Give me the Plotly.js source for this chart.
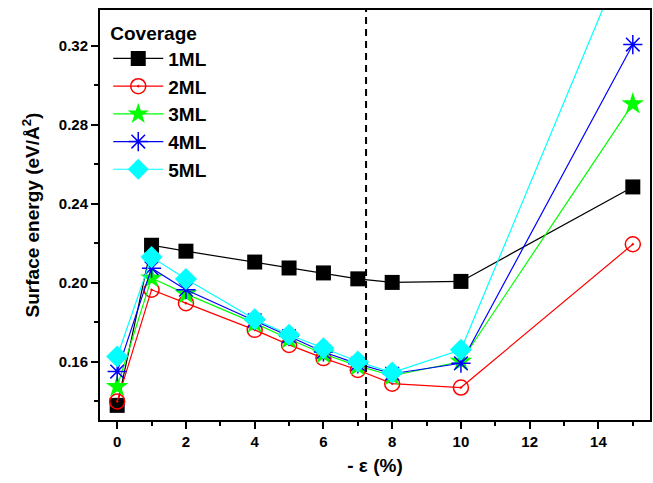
<!DOCTYPE html>
<html>
<head>
<meta charset="utf-8">
<script src="https://cdn.plot.ly/plotly-3.0.1.min.js"></script>
<style>html,body{margin:0;padding:0;background:#fff;}#chart{width:653px;height:483px;}</style>
</head>
<body>
<div id="chart"></div>
<script>
const strain = [0, 1, 2, 4, 5, 6, 7, 8, 10, 15];
const ml1 = [0.138, 0.219, 0.216, 0.2105, 0.2075, 0.205, 0.202, 0.2002, 0.2007, 0.2485];
const ml2 = [0.140, 0.1965, 0.1897, 0.1762, 0.1686, 0.1619, 0.1559, 0.1490, 0.1470, 0.2195];
const ml3 = [0.1475, 0.2024, 0.1944, 0.1796, 0.1716, 0.1640, 0.1580, 0.1530, 0.1602, 0.2905];
const ml4 = [0.1551, 0.2074, 0.1965, 0.1810, 0.1730, 0.1650, 0.1590, 0.1540, 0.1593, 0.3205];
const ml5 = [0.1627, 0.2130, 0.2019, 0.1816, 0.1737, 0.1669, 0.1602, 0.1546, 0.1661, 0.375];
const seriesNames = ['1ML', '2ML', '3ML', '4ML', '5ML'];
const dashedX = 7.24;

const styles = [
  {color: '#000000', symbol: 'square', size: 15, lw: 0},
  {color: '#ff0000', symbol: 'circle-open-dot', size: 15, lw: 1.5},
  {color: '#00ff00', symbol: 'star', size: 17, lw: 0},
  {color: '#0000ff', symbol: 'asterisk-open', size: 16, lw: 1.5},
  {color: '#00ffff', symbol: 'diamond', size: 17, lw: 0}
];
const allY = [ml1, ml2, ml3, ml4, ml5];

const traces = allY.map((ys, i) => ({
  x: strain, y: ys, name: seriesNames[i], type: 'scatter', mode: 'lines+markers',
  line: {color: styles[i].color, width: 1.2},
  marker: {symbol: styles[i].symbol, size: styles[i].size, color: styles[i].color,
           line: {color: styles[i].color, width: styles[i].lw}},
  cliponaxis: true
}));

const layout = {
  width: 653, height: 483,
  margin: {l: 100, r: 3, t: 10, b: 63},
  paper_bgcolor: '#ffffff', plot_bgcolor: '#ffffff',
  font: {family: 'Liberation Sans, Arial, sans-serif', color: '#000'},
  showlegend: true,
  legend: {
    x: 0.015, y: 0.988, xanchor: 'left', yanchor: 'top',
    bgcolor: 'rgba(0,0,0,0)', itemwidth: 50,
    font: {size: 19, family: 'Liberation Sans, Arial, sans-serif', weight: 'bold'},
    title: {text: '<b>Coverage</b>', font: {size: 19}}
  },
  xaxis: {
    range: [-0.5, 15.5], dtick: 2, tick0: 0,
    showgrid: false, zeroline: false,
    showline: true, linecolor: '#000', linewidth: 2, mirror: true,
    ticks: 'outside', ticklen: 7, tickwidth: 2, tickcolor: '#000',
    minor: {dtick: 1, ticks: 'outside', ticklen: 4, tickwidth: 2, tickcolor: '#000'},
    tickfont: {size: 15, weight: 'bold'},
    title: {text: '<b>- ε (%)</b>', font: {size: 19}, standoff: 10}
  },
  yaxis: {
    range: [0.1306, 0.338], dtick: 0.04, tick0: 0.16, tickformat: '.2f',
    showgrid: false, zeroline: false,
    showline: true, linecolor: '#000', linewidth: 2, mirror: true,
    ticks: 'outside', ticklen: 7, tickwidth: 2, tickcolor: '#000',
    minor: {dtick: 0.02, ticks: 'outside', ticklen: 4, tickwidth: 2, tickcolor: '#000'},
    tickfont: {size: 15, weight: 'bold'},
    title: {text: 'Surface energy (eV/Å<sup>2</sup>)', font: {size: 19, weight: 'bold'}, standoff: 14}
  },
  shapes: [{
    type: 'line', xref: 'x', yref: 'paper', x0: dashedX, x1: dashedX, y0: 0, y1: 1,
    line: {color: '#000', width: 2, dash: '7px,5px'}
  }]
};

Plotly.newPlot('chart', traces, layout, {displayModeBar: false, staticPlot: true});
</script>
</body>
</html>
